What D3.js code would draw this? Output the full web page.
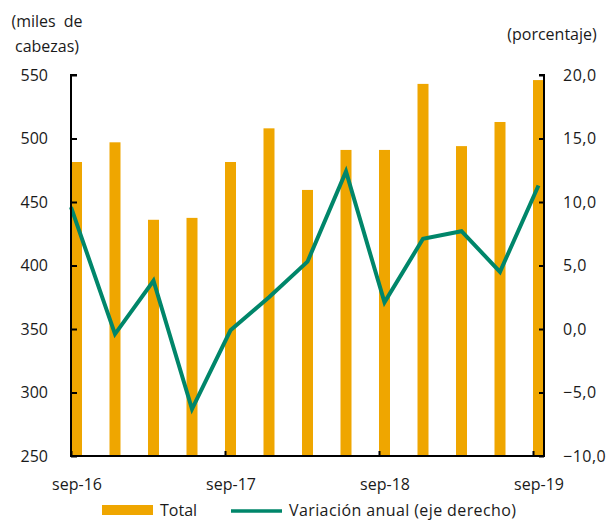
<!DOCTYPE html>
<html>
<head>
<meta charset="utf-8">
<script src="https://cdn.jsdelivr.net/npm/d3@7"></script>
<style>
  body { margin: 0; background: #fff; }
  text { font-family: "Open Sans", sans-serif; fill: #1a1a1a; }
</style>
</head>
<body>
<svg id="chart" width="607" height="520"></svg>
<script>
const periods = ["sep-16", "dic-16", "mar-17", "jun-17", "sep-17", "dic-17", "mar-18",
  "jun-18", "sep-18", "dic-18", "mar-19", "jun-19", "sep-19"];
const totals = [481.5, 497, 436, 437.5, 481.5, 508, 459.5, 491, 491, 543, 494, 513, 546];
const variation = [9.6, -0.4, 3.8, -6.3, -0.1, 2.5, 5.3, 12.4, 2.1, 7.1, 7.7, 4.5, 11.3];
const tickLabels = ["sep-16", "sep-17", "sep-18", "sep-19"];
const leftTicks = [250, 300, 350, 400, 450, 500, 550];
const rightTicks = [-10, -5, 0, 5, 10, 15, 20];

const svg = d3.select("#chart");
const margin = { top: 75, right: 63, bottom: 64, left: 71 },
  width = 607 - margin.left - margin.right,
  height = 520 - margin.top - margin.bottom;

const orange = "#EFA600";
const green = "#00866A";
const barWidth = 11;

const x = d3.scalePoint().domain(periods).range([barWidth / 2, width - barWidth / 2]);
const yL = d3.scaleLinear().domain([250, 550]).range([height, 0]);
const yR = d3.scaleLinear().domain([-10, 20]).range([height, 0]);
const fmtR = (d) => d3.format(".1f")(d).replace(".", ",");

const g = svg.append("g").attr("transform", `translate(${margin.left},${margin.top})`);

// bars
g.selectAll("rect.bar")
  .data(totals)
  .join("rect")
  .attr("class", "bar")
  .attr("x", (d, i) => x(periods[i]) - barWidth / 2)
  .attr("width", barWidth)
  .attr("y", (d) => yL(d))
  .attr("height", (d) => height - yL(d))
  .attr("fill", orange);

// line (first point starts on the axis, as in the original Excel chart)
const line = d3.line()
  .x((d, i) => (i === 0 ? x(periods[i]) - barWidth / 2 : x(periods[i])))
  .y((d) => yR(d));

g.append("path")
  .datum(variation)
  .attr("fill", "none")
  .attr("stroke", green)
  .attr("stroke-width", 4)
  .attr("stroke-linejoin", "miter")
  .attr("d", line);

// axes
const leftAxis = g.append("g")
  .call(d3.axisLeft(yL).tickValues(leftTicks).tickSize(-6).tickPadding(23));
const rightAxis = g.append("g")
  .attr("transform", `translate(${width},0)`)
  .call(d3.axisRight(yR).tickValues(rightTicks).tickSize(-5).tickPadding(19).tickFormat(fmtR));
const bottomAxis = g.append("g")
  .attr("transform", `translate(0,${height})`)
  .call(d3.axisBottom(x).tickValues(tickLabels).tickSize(-5).tickPadding(23));

[leftAxis, rightAxis, bottomAxis].forEach((a) => {
  a.select(".domain").attr("stroke", "#000").attr("stroke-width", 2);
  a.selectAll(".tick line").attr("stroke", "#000").attr("stroke-width", 2);
  a.selectAll(".tick text").style("font-size", "16px").attr("fill", "#1a1a1a");
});
leftAxis.select(".domain").attr("d", `M0,${height + 1}V0H6`);
rightAxis.select(".domain").attr("d", `M0,${height + 1}V0H-5`);
rightAxis.selectAll(".tick text").attr("text-anchor", "start").style("letter-spacing", "0.5px");
bottomAxis.select(".domain").attr("d", `M-1,0H${width + 1}`);
// bottom ticks sit at the left edge of the bar
bottomAxis.selectAll(".tick line").attr("x1", -barWidth / 2).attr("x2", -barWidth / 2);

// axis titles
svg.append("text").attr("x", 47).attr("y", 27).attr("text-anchor", "middle")
  .style("font-size", "16px").style("word-spacing", "4px").text("(miles de");
svg.append("text").attr("x", 47).attr("y", 52).attr("text-anchor", "middle")
  .style("font-size", "16px").text("cabezas)");
svg.append("text").attr("x", 552).attr("y", 40).attr("text-anchor", "middle")
  .style("font-size", "16px").text("(porcentaje)");

// legend
const legend = svg.append("g").attr("transform", "translate(0,510)");
legend.append("rect").attr("x", 102).attr("y", -5).attr("width", 51).attr("height", 10).attr("fill", orange);
legend.append("text").attr("x", 160).attr("dy", "0.35em").style("font-size", "16px").text("Total");
legend.append("line").attr("x1", 231).attr("x2", 282).attr("y1", 1).attr("y2", 1)
  .attr("stroke", green).attr("stroke-width", 3.5);
legend.append("text").attr("x", 289).attr("dy", "0.35em").style("font-size", "16px")
  .style("letter-spacing", "0.4px").text("Variación anual (eje derecho)");
</script>
</body>
</html>
